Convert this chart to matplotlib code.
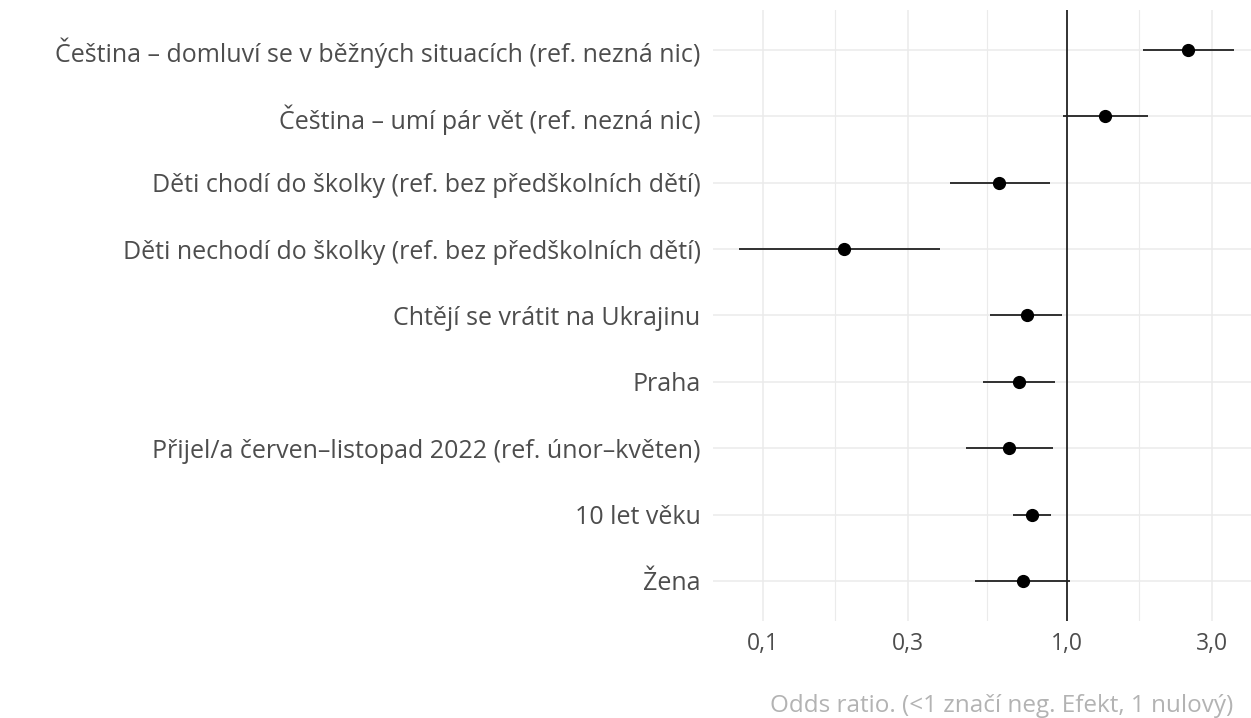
import numpy as np
import matplotlib
matplotlib.use("Agg")
import matplotlib.pyplot as plt
from matplotlib.ticker import FixedLocator, FuncFormatter

plt.rcParams['font.family'] = ['Open Sans', 'DejaVu Sans']

# data (odds ratios with 95% CI), top to bottom
labels = [
    "Čeština – domluví se v běžných situacích (ref. nezná nic)",
    "Čeština – umí pár vět (ref. nezná nic)",
    "Děti chodí do školky (ref. bez předškolních dětí)",
    "Děti nechodí do školky (ref. bez předškolních dětí)",
    "Chtějí se vrátit na Ukrajinu",
    "Praha",
    "Přijel/a červen–listopad 2022 (ref. únor–květen)",
    "10 let věku",
    "Žena",
]
odds = [2.51, 1.34, 0.601, 0.185, 0.738, 0.695, 0.644, 0.772, 0.719]
ci_low = [1.78, 0.973, 0.412, 0.0835, 0.561, 0.529, 0.465, 0.664, 0.499]
ci_high = [3.56, 1.85, 0.882, 0.383, 0.968, 0.914, 0.901, 0.889, 1.028]

major_ticks = [0.1, 0.3, 1.0, 3.0]
minor_ticks = [np.sqrt(0.03), np.sqrt(0.3), np.sqrt(3.0)]

fig = plt.figure(figsize=(12.51, 7.18), dpi=100)
ax = fig.add_axes([0.570, 0.1354, 0.430, 0.8504])

n = len(labels)
ypos = np.arange(n)[::-1] + 1

ax.set_xscale('log')
ax.set_xlim(0.0687, 4.04)
ax.set_ylim(0.4, n + 0.6)

# grid
for y in ypos:
    ax.axhline(y, color='#ebebeb', lw=1.1, zorder=0)
for x in major_ticks:
    ax.axvline(x, color='#ebebeb', lw=1.1, zorder=0)
for x in minor_ticks:
    ax.axvline(x, color='#ebebeb', lw=0.8, zorder=0)

ax.axvline(1.0, color='black', lw=1.1, zorder=1)

ax.hlines(ypos, ci_low, ci_high, color='#222222', lw=1.3, zorder=2)
ax.plot(odds, ypos, 'o', color='black', ms=8.5, zorder=3)

ax.xaxis.set_major_locator(FixedLocator(major_ticks))
ax.xaxis.set_minor_locator(FixedLocator([]))
ax.xaxis.set_major_formatter(FuncFormatter(lambda v, p: f"{v:.1f}".replace('.', ',')))
ax.set_yticks(ypos)
ax.set_yticklabels(labels)

ax.tick_params(axis='both', length=0, labelcolor='#4d4d4d')
ax.tick_params(axis='x', pad=8, labelsize=16.5)
ax.tick_params(axis='y', pad=9, labelsize=18)

for s in ax.spines.values():
    s.set_visible(False)

fig.text(1233 / 1251, 1 - 706 / 718, "Odds ratio. (<1 značí neg. Efekt, 1 nulový)",
         ha='right', va='center', color='#b3b3b3', fontsize=17.5)

fig.savefig("out.png", dpi=100)
